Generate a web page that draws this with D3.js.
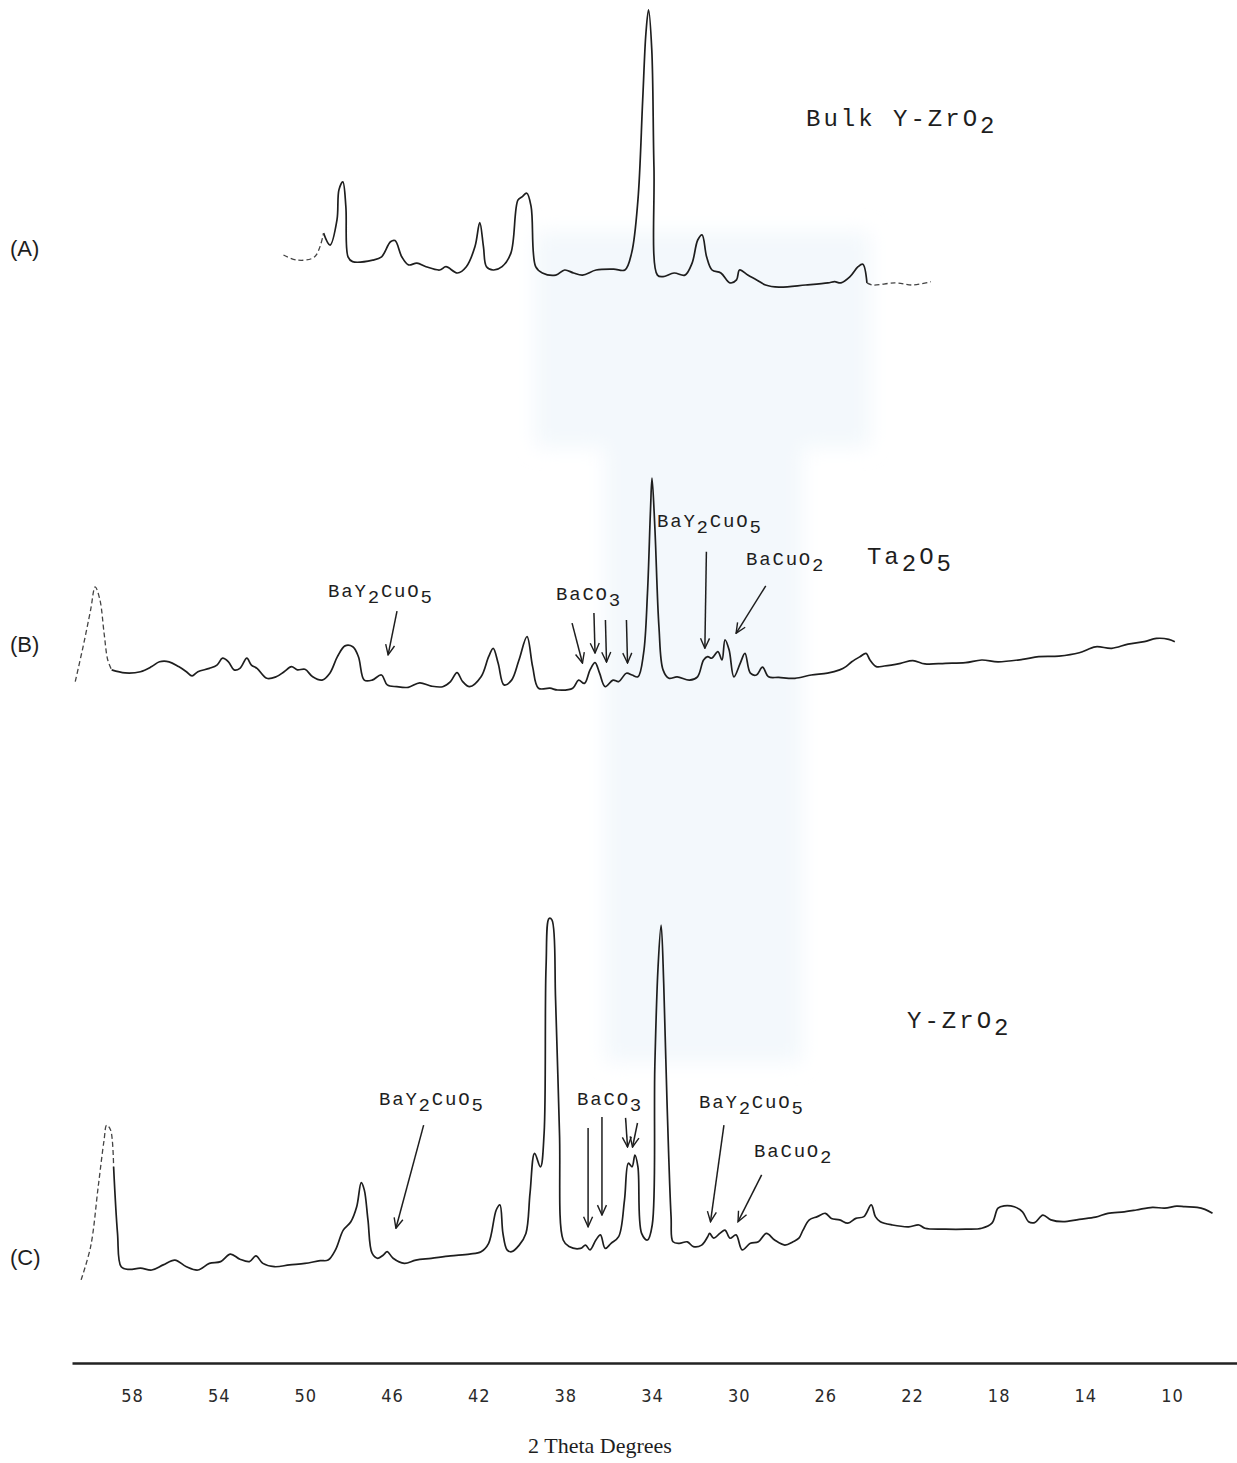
<!DOCTYPE html>
<html>
<head>
<meta charset="utf-8">
<script src="https://cdn.jsdelivr.net/npm/d3@7"></script>
<style>
  html, body { margin: 0; padding: 0; background: #fff; }
  svg { display: block; }
</style>
</head>
<body>
<svg id="chart" width="1237" height="1463"></svg>
<script>
// ---- X-ray diffraction traces: [2-theta (deg), relative intensity] ----
const traceA = [
  [51.01,15.0],[50.39,13.3],[49.57,14.4],[49.16,22.3],[48.86,18.3],[48.54,26.7],[48.45,36.7],
  [48.27,39.4],[48.13,31.1],[48.03,14.4],[47.82,12.8],[46.89,13.3],[46.48,14.4],[46.07,19.4],
  [45.86,19.8],[45.55,14.4],[45.24,11.7],[44.85,12.3],[44.43,11.1],[43.80,10.0],[43.51,11.1],
  [42.98,9.0],[42.57,11.1],[42.17,17.8],[41.95,25.8],[41.78,17.8],[41.64,11.1],[41.33,10.0],
  [40.92,11.1],[40.51,15.7],[40.19,33.3],[40.00,34.4],[39.78,35.6],[39.58,31.1],[39.37,11.1],
  [39.06,9.0],[38.44,8.3],[38.03,10.0],[37.62,9.0],[37.21,8.3],[36.58,10.0],[35.77,10.3],
  [35.25,10.0],[34.94,15.7],[34.65,33.3],[34.43,66.7],[34.28,89.0],[34.16,96.7],[34.01,83.3],
  [33.91,44.3],[33.75,8.3],[33.49,7.8],[32.98,9.0],[32.48,8.3],[32.15,12.3],[31.89,20.0],
  [31.69,21.7],[31.48,14.4],[31.23,10.0],[30.82,9.0],[30.40,5.7],[30.10,6.7],[29.96,10.0],
  [29.58,8.3],[29.17,6.7],[28.76,5.0],[28.14,4.3],[26.91,5.0],[25.88,5.7],[25.57,6.1],
  [25.28,5.7],[24.86,7.8],[24.49,11.1],[24.27,11.9],[24.08,5.7],[23.81,5.0],[22.78,5.7],
  [21.95,5.0],[21.14,6.1]
];

const traceB = [
  [60.62,12.8],[60.26,24.4],[59.91,36.7],[59.70,44.4],[59.48,40.0],[59.29,29.0],[59.12,20.0],
  [58.94,16.7],[58.32,15.7],[57.61,16.1],[57.09,17.8],[56.73,19.4],[56.29,19.4],[55.85,17.8],
  [55.49,16.1],[55.23,14.7],[54.96,16.1],[54.43,17.2],[54.08,18.3],[53.82,20.6],[53.55,19.4],
  [53.29,16.7],[53.02,17.2],[52.70,20.6],[52.49,18.3],[52.23,17.2],[51.78,13.9],[51.35,14.4],
  [50.98,16.1],[50.64,17.8],[50.37,16.7],[50.02,16.9],[49.66,14.4],[49.23,13.3],[48.87,15.6],
  [48.52,21.1],[48.17,24.7],[47.81,24.4],[47.55,21.1],[47.28,13.3],[46.92,13.3],[46.49,15.0],
  [46.22,11.7],[45.78,11.1],[45.25,10.9],[44.72,12.4],[44.19,11.3],[43.66,11.1],[43.30,12.8],
  [43.00,15.8],[42.74,12.8],[42.42,11.1],[41.89,14.4],[41.54,21.1],[41.33,23.9],[41.10,18.9],
  [40.83,11.7],[40.48,13.3],[40.14,20.0],[39.77,27.8],[39.51,17.8],[39.24,10.6],[38.71,10.6],
  [38.36,10.0],[37.66,10.6],[37.39,13.3],[37.12,12.2],[36.86,16.7],[36.63,19.1],[36.42,15.6],
  [36.16,11.1],[35.80,13.3],[35.54,12.8],[35.18,15.6],[34.92,15.0],[34.65,14.4],[34.39,22.2],
  [34.21,42.2],[34.07,70.0],[34.00,80.6],[33.87,64.4],[33.68,31.1],[33.49,16.7],[33.22,13.9],
  [32.84,14.4],[32.27,13.3],[31.90,14.4],[31.62,20.0],[31.43,21.1],[31.24,20.6],[30.96,22.8],
  [30.77,20.0],[30.63,26.7],[30.44,23.3],[30.22,14.4],[29.93,18.9],[29.71,22.2],[29.46,15.6],
  [29.18,15.0],[28.90,17.6],[28.62,14.4],[28.15,14.2],[27.40,13.9],[26.65,15.0],[25.90,15.6],
  [25.34,16.7],[25.05,17.8],[24.78,19.4],[24.40,21.1],[24.12,22.2],[23.94,20.0],[23.65,17.8],
  [23.28,18.0],[22.53,18.9],[21.96,19.8],[21.40,18.7],[20.46,18.9],[19.53,19.1],[18.78,20.0],
  [18.03,19.4],[16.90,20.2],[16.15,21.1],[15.22,21.3],[14.28,22.4],[13.53,24.4],[12.78,23.9],
  [12.03,25.3],[11.28,26.1],[10.72,27.2],[10.15,26.9],[9.87,26.1]
];

const traceC = [
  [60.35,6.7],[59.91,17.8],[59.56,37.8],[59.29,53.3],[59.17,58.3],[58.99,56.7],[58.85,44.4],
  [58.67,22.3],[58.50,11.1],[58.14,10.2],[57.61,10.6],[57.09,10.0],[56.56,11.7],[56.02,13.3],
  [55.49,11.1],[54.96,10.0],[54.43,12.2],[53.91,12.8],[53.46,15.3],[53.02,13.6],[52.58,12.8],
  [52.28,14.7],[51.96,12.2],[51.43,11.1],[50.73,11.7],[50.02,12.2],[49.31,13.1],[48.95,13.3],
  [48.61,16.7],[48.25,23.3],[47.90,26.1],[47.63,31.1],[47.42,39.1],[47.28,36.7],[47.11,26.7],
  [46.92,15.6],[46.66,13.9],[46.40,15.0],[46.22,16.1],[45.95,13.9],[45.43,12.2],[44.90,13.3],
  [44.19,13.9],[43.30,14.7],[42.42,15.3],[41.89,16.1],[41.54,18.9],[41.19,30.0],[41.02,31.7],
  [40.88,22.2],[40.69,16.7],[40.48,16.1],[40.13,18.3],[39.82,22.2],[39.63,35.6],[39.42,48.9],
  [39.15,44.4],[38.98,55.6],[38.89,111.1],[38.75,127.2],[38.62,126.7],[38.45,100.0],[38.27,55.6],
  [38.10,20.0],[37.83,17.8],[37.30,17.2],[37.07,18.3],[36.86,16.7],[36.59,20.0],[36.38,21.7],
  [36.16,17.2],[35.89,18.9],[35.54,21.1],[35.27,33.3],[35.09,45.6],[34.92,44.4],[34.79,48.3],
  [34.65,44.4],[34.48,22.2],[34.21,20.0],[33.99,25.0],[33.87,77.8],[33.72,111.1],[33.58,125.0],
  [33.46,105.6],[33.31,66.7],[33.12,27.8],[33.03,19.4],[32.74,18.9],[32.37,19.4],[32.09,17.8],
  [31.71,18.3],[31.43,21.1],[31.34,22.2],[31.15,20.6],[30.87,22.2],[30.63,23.3],[30.40,20.6],
  [30.12,21.7],[29.84,16.7],[29.46,18.9],[29.09,19.4],[28.72,22.2],[28.34,20.0],[27.87,18.3],
  [27.49,19.4],[27.22,20.6],[27.03,23.3],[26.74,26.7],[26.37,27.8],[26.00,28.9],[25.72,27.2],
  [25.34,26.7],[24.96,25.6],[24.59,27.2],[24.22,27.8],[23.88,31.7],[23.69,27.8],[23.46,26.1],
  [22.90,25.0],[22.15,24.4],[21.68,25.0],[21.40,23.9],[20.46,23.6],[19.53,23.6],[18.78,23.9],
  [18.31,25.6],[18.03,30.6],[17.75,31.4],[17.28,31.1],[16.90,29.4],[16.62,26.1],[16.34,25.8],
  [15.96,28.3],[15.59,26.7],[15.03,26.1],[14.28,26.9],[13.53,27.6],[12.96,28.9],[12.21,29.4],
  [11.65,30.0],[10.90,30.9],[10.34,30.6],[9.78,31.3],[9.40,31.1],[8.84,30.9],[8.48,30.2],
  [8.13,28.9]
];

// 2-theta tick labels
const tickDegrees = [58, 54, 50, 46, 42, 38, 34, 30, 26, 22, 18, 14, 10];

// Panel names and phase labels: [text, 2-theta, intensity]
const panelNames = ["(A)", "(B)", "(C)"];
const titleA = [["Bulk Y-ZrO2", 26.89, 58.0]];
const labelsB = [
  ["BaY2CuO5", 48.95, 41.0], ["BaCO3", 38.43, 40.0], ["BaY2CuO5", 33.77, 64.3],
  ["BaCuO2", 29.66, 51.7]
];
const titleB = [["Ta2O5", 24.08, 52.0]];
const labelsC = [
  ["BaY2CuO5", 46.60, 65.0], ["BaCO3", 37.46, 65.0], ["BaY2CuO5", 31.83, 64.0],
  ["BaCuO2", 29.29, 47.7]
];
const titleC = [["Y-ZrO2", 22.23, 90.7]];

// Arrows: [from 2-theta, from intensity, to 2-theta, to intensity]
const arrowsB = [
  [45.77, 36.3, 46.18, 21.7],
  [37.69, 32.3, 37.21, 19.0], [36.68, 35.7, 36.63, 22.3],
  [36.15, 33.3, 36.10, 19.3], [35.18, 33.3, 35.13, 19.0],
  [31.49, 56.1, 31.56, 23.9],
  [28.75, 44.7, 30.12, 28.9]
];
const arrowsC = [
  [44.54, 58.3, 45.82, 23.9],
  [36.95, 57.3, 36.95, 24.4], [36.31, 61.0, 36.31, 28.3],
  [35.22, 60.7, 35.13, 51.0], [34.67, 59.0, 34.90, 51.0],
  [30.68, 58.3, 31.30, 26.1],
  [28.94, 41.7, 30.03, 26.1]
];

// ---- drawing ----
const svg = d3.select("#chart");
const ink = "#1e1e1e";

const defs = svg.append("defs");
defs.append("filter").attr("id", "soft")
  .attr("x", "-10%").attr("y", "-10%").attr("width", "120%").attr("height", "120%")
  .append("feGaussianBlur").attr("stdDeviation", 10);

// faint tint of the paper in the middle of the sheet
const tint = svg.append("g").attr("fill", "#f3f8fc").attr("filter", "url(#soft)");
tint.append("rect").attr("x", 535).attr("y", 232).attr("width", 335).attr("height", 215);
tint.append("rect").attr("x", 605).attr("y", 440).attr("width", 197).attr("height", 622);

const x = d3.scaleLinear().domain([60.77, 7.0]).range([72, 1237]);

const panels = [
  { name: panelNames[0], base: 300, trace: traceA, dashedAbove: 49.2, dashedBelow: 24.0,
    labels: [], titles: titleA, arrows: [], nameY: 256 },
  { name: panelNames[1], base: 720, trace: traceB, dashedAbove: 59.0, dashedBelow: -1,
    labels: labelsB, titles: titleB, arrows: arrowsB, nameY: 652 },
  { name: panelNames[2], base: 1300, trace: traceC, dashedAbove: 58.9, dashedBelow: -1,
    labels: labelsC, titles: titleC, arrows: arrowsC, nameY: 1265 }
];

defs.append("marker")
  .attr("id", "head")
  .attr("viewBox", "0 0 12 12")
  .attr("refX", 11).attr("refY", 6)
  .attr("markerWidth", 12).attr("markerHeight", 12)
  .attr("markerUnits", "userSpaceOnUse")
  .attr("orient", "auto")
  .append("path")
  .attr("d", "M1,1.5 L11,6 L1,10.5")
  .attr("fill", "none").attr("stroke", ink).attr("stroke-width", 1.4);

// draws formula text with every digit lowered as a subscript
function formula(g, txt, px, py, size, spacing) {
  const t = g.append("text")
    .attr("x", px).attr("y", py)
    .attr("font-family", "'Liberation Mono', 'DejaVu Sans Mono', monospace")
    .attr("font-size", size)
    .attr("letter-spacing", spacing)
    .attr("fill", ink)
    .style("white-space", "pre");
  const parts = txt.match(/\d+|\D+/g);
  let low = false;
  parts.forEach(p => {
    const isDigit = /\d/.test(p);
    const shift = Math.round(size * 0.3);
    let dy = 0;
    if (isDigit && !low) { dy = shift; low = true; }
    else if (!isDigit && low) { dy = -shift; low = false; }
    t.append("tspan").attr("dy", dy).text(p);
  });
  return t;
}

panels.forEach(p => {
  const y = d3.scaleLinear().domain([0, 100]).range([p.base, p.base - 300]);
  const g = svg.append("g");
  const line = d3.line()
    .x(d => x(d[0])).y(d => y(d[1]))
    .curve(d3.curveCatmullRom.alpha(0.5));

  const hi = p.dashedAbove, lo = p.dashedBelow;
  const solid = p.trace.filter(d => d[0] <= hi && d[0] >= lo);
  const i0 = p.trace.indexOf(solid[0]);
  const i1 = p.trace.indexOf(solid[solid.length - 1]);
  const leftPart = p.trace.slice(0, i0 + 1);
  const rightPart = p.trace.slice(i1);

  g.append("path").attr("d", line(solid))
    .attr("fill", "none").attr("stroke", ink).attr("stroke-width", 1.7)
    .attr("stroke-linejoin", "round");
  [leftPart, rightPart].forEach(seg => {
    if (seg.length > 1) {
      g.append("path").attr("d", line(seg))
        .attr("fill", "none").attr("stroke", "#444").attr("stroke-width", 1.3)
        .attr("stroke-dasharray", "5,3");
    }
  });

  g.append("text")
    .attr("x", 10).attr("y", p.nameY)
    .attr("font-family", "'Liberation Sans', Arial, sans-serif")
    .attr("font-size", 22).attr("fill", ink)
    .text(p.name);

  p.labels.forEach(l => formula(g, l[0], x(l[1]), y(l[2]), 19, 1.8));
  p.titles.forEach(l => formula(g, l[0], x(l[1]), y(l[2]), 24, 3));

  g.selectAll("line.arrow").data(p.arrows).enter().append("line")
    .attr("class", "arrow")
    .attr("x1", d => x(d[0])).attr("y1", d => y(d[1]))
    .attr("x2", d => x(d[2])).attr("y2", d => y(d[3]))
    .attr("stroke", ink).attr("stroke-width", 1.5)
    .attr("marker-end", "url(#head)");
});

// 2-theta axis
const axis = svg.append("g")
  .attr("transform", "translate(0,1363)")
  .call(d3.axisBottom(x).tickValues(tickDegrees).tickSize(0).tickSizeOuter(0).tickPadding(26)
    .tickFormat(d3.format("d")));
axis.select(".domain").attr("stroke", "#222").attr("stroke-width", 2.6);
axis.selectAll(".tick text")
  .attr("font-family", "'Liberation Sans Narrow', 'DejaVu Sans Condensed', sans-serif")
  .attr("font-size", 18).attr("letter-spacing", 1).attr("fill", "#2a2a2a");

svg.append("text")
  .attr("x", 600).attr("y", 1453)
  .attr("text-anchor", "middle")
  .attr("font-family", "'Liberation Serif', 'Times New Roman', serif")
  .attr("font-size", 22).attr("fill", ink)
  .text("2 Theta Degrees");
</script>
</body>
</html>
